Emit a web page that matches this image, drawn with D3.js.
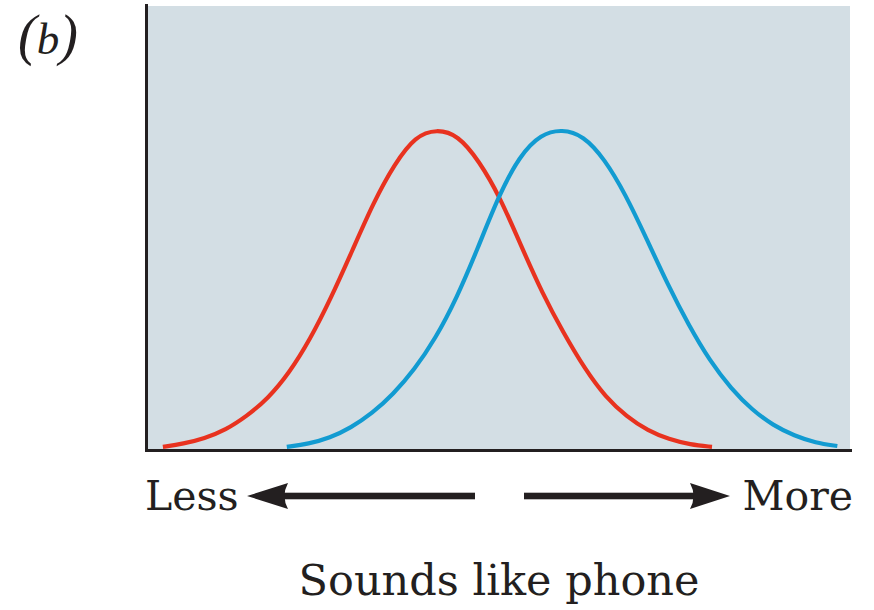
<!DOCTYPE html>
<html>
<head>
<meta charset="utf-8">
<script src="https://cdn.jsdelivr.net/npm/d3@7"></script>
<style>
  body { margin: 0; background: #fff; }
  svg { display: block; }
</style>
</head>
<body>
<svg width="874" height="610"></svg>
<script>
// red curve (less phone-like)
const redX = [2.4, 5.3, 8.3, 11.3, 14.3, 17.3, 20.3, 23.3, 26.3, 29.3, 32.3, 35.3, 38.3, 41.3, 44.3, 47.3, 50.3, 53.3, 56.3, 59.3, 62.3, 65.3, 68.3, 71.3, 74.3, 77.3, 80.4]
const redY = [0.007, 0.014, 0.026, 0.045, 0.076, 0.115, 0.172, 0.248, 0.342, 0.448, 0.556, 0.643, 0.706, 0.721, 0.708, 0.650, 0.568, 0.458, 0.352, 0.263, 0.183, 0.118, 0.075, 0.043, 0.024, 0.012, 0.007]
// blue curve (more phone-like)
const blueX = [20.0, 23.1, 26.1, 29.1, 32.1, 35.1, 38.1, 41.1, 44.1, 47.1, 50.1, 53.1, 56.1, 59.1, 62.1, 65.1, 68.1, 71.1, 74.1, 77.1, 80.1, 83.1, 86.1, 89.1, 92.1, 95.1, 98.2]
const blueY = [0.007, 0.014, 0.027, 0.050, 0.082, 0.125, 0.180, 0.250, 0.340, 0.452, 0.572, 0.662, 0.710, 0.721, 0.707, 0.655, 0.575, 0.475, 0.372, 0.280, 0.200, 0.138, 0.090, 0.055, 0.032, 0.016, 0.009]

const panelLabel = 'b'
const lowLabel = 'Less'
const highLabel = 'More'
const axisTitle = 'Sounds like phone'

const margin = {top: 5, left: 146}
const width = 704
const height = 445

const xScale = d3.scaleLinear().domain([0, 100]).range([0, width])
const yScale = d3.scaleLinear().domain([0, 1]).range([height, 0])

const svg = d3.select('svg')
const container = svg.append('g')
    .attr('transform', `translate(${margin.left},${margin.top})`)

container.append('rect')
    .attr('x', 0).attr('y', 1)
    .attr('width', width).attr('height', height - 1)
    .attr('fill', '#d3dee4')

const line = d3.line()
    .x(d => xScale(d[0]))
    .y(d => yScale(d[1]))
    .curve(d3.curveBasis)

const series = [
  {pts: d3.zip(redX, redY), color: '#e8321f'},
  {pts: d3.zip(blueX, blueY), color: '#129bd1'}
]
container.selectAll('.curve')
    .data(series)
    .enter()
    .append('path')
    .classed('curve', true)
    .attr('d', d => line(d.pts))
    .attr('fill', 'none')
    .attr('stroke', d => d.color)
    .attr('stroke-width', 4.2)

const yAxis = container.append('g').call(d3.axisLeft(yScale).ticks(0).tickSizeOuter(0))
const xAxis = container.append('g')
    .attr('transform', `translate(0,${height})`)
    .call(d3.axisBottom(xScale).ticks(0).tickSizeOuter(0))
for (const ax of [xAxis, yAxis]) {
  ax.select('.domain')
    .attr('stroke', '#231f20')
    .attr('stroke-width', 3)
    .attr('stroke-linecap', 'square')
}

// panel label "(b)"
const lab = svg.append('text')
    .attr('x', 18).attr('y', 54)
    .attr('font-family', '"Liberation Serif", serif')
    .attr('font-style', 'italic')
    .attr('fill', '#231f20')
lab.append('tspan').attr('font-size', 56).text('(')
lab.append('tspan').attr('font-size', 45).text(panelLabel)
lab.append('tspan').attr('font-size', 56).text(')')

// direction arrows
const arrowY = 496
const arrows = svg.append('g').attr('fill', '#231f20').attr('stroke', 'none')
arrows.append('rect').attr('x', 280).attr('y', arrowY - 3.3).attr('width', 195).attr('height', 6.6)
arrows.append('path')
    .attr('d', `M247,${arrowY} L288,${arrowY - 13} Q281,${arrowY} 288,${arrowY + 13} Z`)
arrows.append('rect').attr('x', 524).attr('y', arrowY - 3.3).attr('width', 175).attr('height', 6.6)
arrows.append('path')
    .attr('d', `M730,${arrowY} L690,${arrowY - 13} Q697,${arrowY} 690,${arrowY + 13} Z`)

const textStyle = sel => sel
    .attr('font-family', '"DejaVu Serif", serif')
    .attr('fill', '#231f20')

svg.append('text').call(textStyle)
    .attr('x', 145).attr('y', 510)
    .attr('font-size', 41)
    .text(lowLabel)
svg.append('text').call(textStyle)
    .attr('x', 853).attr('y', 510)
    .attr('font-size', 41)
    .attr('text-anchor', 'end')
    .text(highLabel)
svg.append('text').call(textStyle)
    .attr('x', 499).attr('y', 595)
    .attr('font-size', 43)
    .attr('text-anchor', 'middle')
    .text(axisTitle)
</script>
</body>
</html>
